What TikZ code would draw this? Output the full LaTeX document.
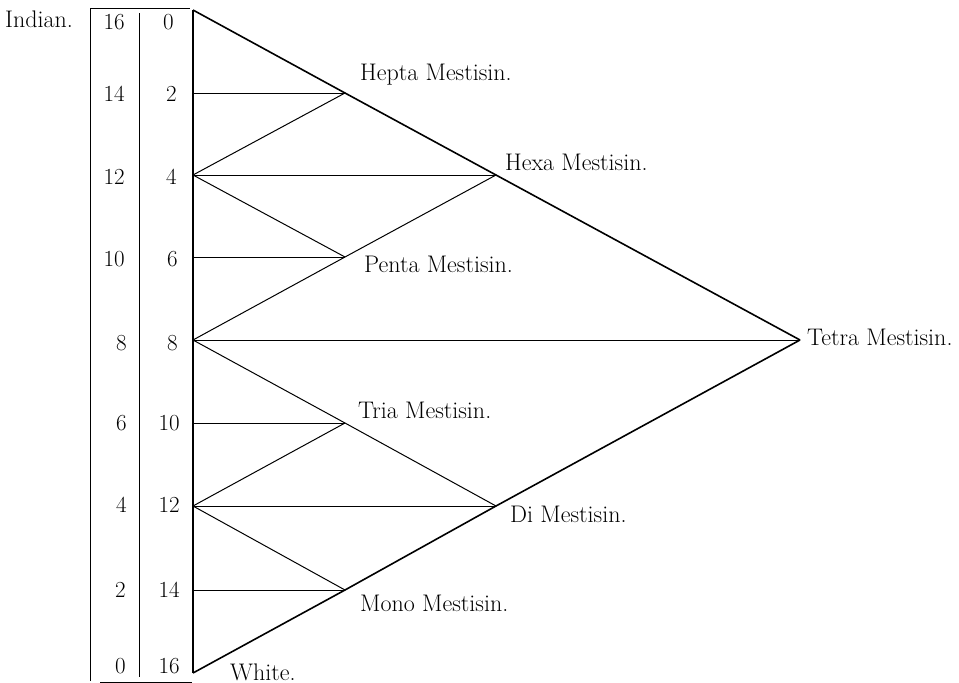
\documentclass[tikz,border=0pt]{standalone}
\begin{document}
\begin{tikzpicture}[x=1pt,y=-1pt,
  lab/.style={inner sep=0pt,font=\fontsize{24}{28}\selectfont},
  numL/.style={inner sep=0pt,anchor=east,font=\fontsize{23}{27}\selectfont},
  numR/.style={inner sep=0pt,anchor=east,font=\fontsize{23}{27}\selectfont},
  outer/.style={line width=1.6pt},
  inner/.style={line width=1.0pt},
  rule/.style={line width=1.0pt}]
\useasboundingbox (0,0) rectangle (959,683);
% points
\coordinate (A) at (193,10);
\coordinate (P2) at (193,93);
\coordinate (P4) at (193,175);
\coordinate (P6) at (193,257);
\coordinate (P8) at (193,340);
\coordinate (P10) at (193,423);
\coordinate (P12) at (193,506);
\coordinate (P14) at (193,590);
\coordinate (B) at (193,673);
\coordinate (Hepta) at (345,93);
\coordinate (Hexa) at (496,175);
\coordinate (Penta) at (345,257);
\coordinate (Tetra) at (800,340);
\coordinate (Tria) at (345,423);
\coordinate (Di) at (496,506);
\coordinate (Mono) at (345,590);
% table rules
\coordinate (TL) at (90,8);
\coordinate (TR) at (190,8);
\coordinate (LB) at (90,681);
\coordinate (DT) at (139,13);
\coordinate (DB) at (139,677);
\coordinate (BL) at (100,682);
\coordinate (BR) at (192,682);
\draw[rule] (TL) -- (TR);
\draw[rule] (TL) -- (LB);
\draw[rule] (DT) -- (DB);
\draw[rule] (BL) -- (BR);
% outer triangle
\draw[outer] (A) -- (B);
\draw[outer] (A) -- (Hepta) -- (Hexa) -- (Tetra);
\draw[outer] (B) -- (Mono) -- (Di) -- (Tetra);
% inner lines
\draw[inner] (P2) -- (Hepta);
\draw[inner] (P4) -- (Hepta);
\draw[inner] (P4) -- (Hexa);
\draw[inner] (P4) -- (Penta);
\draw[inner] (P6) -- (Penta);
\draw[inner] (P8) -- (Penta) -- (Hexa);
\draw[inner] (P8) -- (Tetra);
\draw[inner] (P8) -- (Tria) -- (Di);
\draw[inner] (P10) -- (Tria);
\draw[inner] (P12) -- (Tria);
\draw[inner] (P12) -- (Di);
\draw[inner] (P12) -- (Mono);
\draw[inner] (P14) -- (Mono);
% numbers
\node[numL] (l16) at (125,22) {16};
\node[numL] (l14) at (125,94) {14};
\node[numL] (l12) at (125,177) {12};
\node[numL] (l10) at (125,259) {10};
\node[numL] (l8) at (127,343) {8};
\node[numL] (l6) at (127,423) {6};
\node[numL] (l4) at (127,505) {4};
\node[numL] (l2) at (126,590) {2};
\node[numL] (l0) at (126,666) {0};
\node[numR] (r0) at (174,22) {0};
\node[numR] (r2) at (177,94) {2};
\node[numR] (r4) at (177,177) {4};
\node[numR] (r6) at (178,259) {6};
\node[numR] (r8) at (178,343) {8};
\node[numR] (r10) at (180,423) {10};
\node[numR] (r12) at (180,505) {12};
\node[numR] (r14) at (180,590) {14};
\node[numR] (r16) at (180,666) {16};
% labels
\node[lab,anchor=west] (indian) at (5,19) {Indian.};
\node[lab,anchor=west] (lhepta) at (360,75) {Hepta Mestisin.};
\node[lab,anchor=west] (lhexa) at (505,162) {Hexa Mestisin.};
\node[lab,anchor=west] (lpenta) at (364,264) {Penta Mestisin.};
\node[lab,anchor=west] (ltetra) at (807,337) {Tetra Mestisin.};
\node[lab,anchor=west] (ltria) at (358,410) {Tria Mestisin.};
\node[lab,anchor=west] (ldi) at (510,514) {Di Mestisin.};
\node[lab,anchor=west] (lmono) at (360,603) {Mono Mestisin.};
\node[lab,anchor=west] (lwhite) at (230,672) {White.};
\end{tikzpicture}
\end{document}
